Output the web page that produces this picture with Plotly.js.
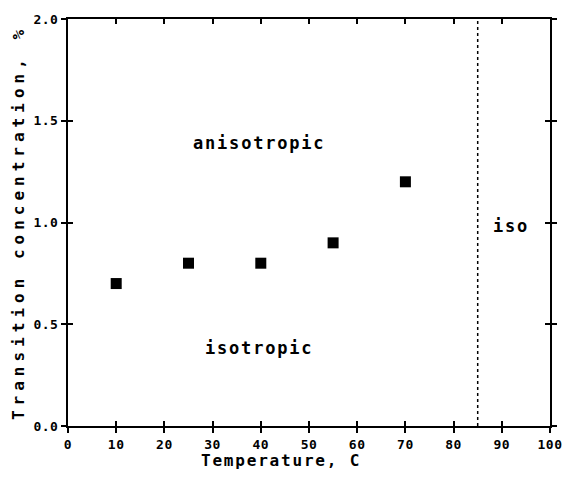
<!DOCTYPE html>
<html><head><meta charset="utf-8">
<script src="https://cdn.plot.ly/plotly-3.0.1.min.js"></script>
<style>html,body{margin:0;padding:0;background:#fff}#c{width:563px;height:484px}
.annotation-text{letter-spacing:1.8px}
.ytitle{letter-spacing:5px}
.xtick text,.ytick text{letter-spacing:0.5px}
</style>
</head><body><div id="c"></div>
<script>
const temperature = [10, 25, 40, 55, 70];
const concentration = [0.7, 0.8, 0.8, 0.9, 1.2];
const boundaryX = 85;
const labels = [
  {text: 'anisotropic', x: 39.6, y: 1.39},
  {text: 'isotropic', x: 39.6, y: 0.385},
  {text: 'iso', x: 92.0, y: 0.985}
];
const xTitle = 'Temperature, C';
const yTitle = 'Transition concentration, %';
const F = 'DejaVu Sans Mono, monospace';
const data = [
  {x: temperature, y: concentration, type: 'scatter', mode: 'markers',
   marker: {symbol: 'square', size: 11, color: '#000'}, showlegend: false, cliponaxis: false},
  {x: [boundaryX, boundaryX], y: [0, 2], type: 'scatter', mode: 'lines',
   line: {color: '#000', width: 1.5, dash: 'dot'}, showlegend: false}
];
const common = {showgrid: false, zeroline: false, linecolor: '#000', linewidth: 2,
  tickcolor: '#000', tickwidth: 2, ticklen: 5};
const layout = {
  width: 563, height: 484,
  margin: {l: 68, r: 13, t: 19, b: 58},
  paper_bgcolor: '#fff', plot_bgcolor: '#fff',
  font: {family: F, color: '#000'},
  xaxis: Object.assign({}, common, {range: [0, 100], dtick: 10, tick0: 0, ticks: 'outside', mirror: true,
    tickfont: {family: F, size: 13, weight: 'bold'}}),
  yaxis: Object.assign({}, common, {range: [0, 2], dtick: 0.5, tick0: 0, ticks: 'outside', mirror: 'allticks',
    tickformat: '.1f', tickfont: {family: F, size: 13, weight: 'bold'},
    title: {text: yTitle, font: {family: F, size: 16, weight: 'bold'}, standoff: 5}}),
  xaxis2: Object.assign({}, common, {range: [0, 100], dtick: 10, tick0: 0, ticks: 'inside', mirror: 'allticks',
    overlaying: 'x', showticklabels: false, anchor: 'y'}),
  yaxis2: Object.assign({}, common, {range: [0, 2], dtick: 0.5, tick0: 0, ticks: 'inside', mirror: 'allticks',
    overlaying: 'y', showticklabels: false, anchor: 'x'}),
  annotations: labels.map(l => ({x: l.x, y: l.y, xref: 'x', yref: 'y', text: l.text, showarrow: false,
    font: {family: F, size: 17, weight: 'bold', color: '#000'}})).concat([
    {x: 0.442, y: -0.085, xref: 'paper', yref: 'paper', text: xTitle, showarrow: false,
     xanchor: 'center', yanchor: 'middle', font: {family: F, size: 16, weight: 'bold', color: '#000'}}
  ]),
  showlegend: false
};
data.push({x: [0], y: [0], xaxis: 'x2', yaxis: 'y2', mode: 'markers', marker: {opacity: 0}, showlegend: false, hoverinfo: 'skip'});
Plotly.newPlot('c', data, layout, {displayModeBar: false, staticPlot: true});
</script></body></html>
